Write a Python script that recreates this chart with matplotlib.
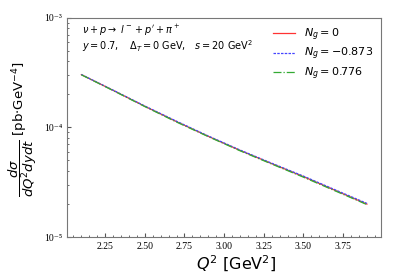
import numpy as np
import matplotlib
matplotlib.use("Agg")
from matplotlib import pyplot as plt
from matplotlib.ticker import AutoMinorLocator, FuncFormatter, LogLocator

# values
Q2 = [2.1, 2.3, 2.5, 2.7, 2.9, 3.1, 3.3, 3.5, 3.7, 3.9]
xs_Ng0 = [3.03e-4, 2.18e-4, 1.56e-4, 1.13e-4, 8.30e-5, 6.18e-5, 4.68e-5, 3.56e-5, 2.67e-5, 2.00e-5]
xs_Ngm = [3.04e-4, 2.19e-4, 1.57e-4, 1.14e-4, 8.36e-5, 6.23e-5, 4.72e-5, 3.60e-5, 2.70e-5, 2.03e-5]
xs_Ngp = [3.02e-4, 2.17e-4, 1.55e-4, 1.12e-4, 8.25e-5, 6.13e-5, 4.64e-5, 3.52e-5, 2.64e-5, 1.98e-5]
labels = [r'$N_g = 0$', r'$N_g = -0.873$', r'$N_g = 0.776$']

sup = str.maketrans("-0123456789", "⁻⁰¹²³⁴⁵⁶⁷⁸⁹")

def logfmt(v, pos):
    e = int(round(np.log10(v)))
    return "10" + str(e).translate(sup)

fig = plt.figure(figsize=(4.09, 2.78), dpi=100)
ax = fig.add_axes([0.164, 0.147, 0.768, 0.789])

ax.plot(Q2, xs_Ng0, color='#ff3333', lw=0.9, ls='-', label=labels[0])
ax.plot(Q2, xs_Ngm, color='#4444ff', lw=0.9, ls='--', dashes=(2, 1), label=labels[1])
ax.plot(Q2, xs_Ngp, color='#33aa33', lw=0.9, ls='-.', label=labels[2])

ax.set_yscale('log')
ax.set_ylim(1e-5, 1e-3)
ax.set_xlim(2.01, 3.99)
ax.set_xticks([2.25, 2.50, 2.75, 3.00, 3.25, 3.50, 3.75])
ax.xaxis.set_minor_locator(AutoMinorLocator(5))
ax.yaxis.set_major_locator(LogLocator(base=10, numticks=5))
ax.yaxis.set_major_formatter(FuncFormatter(logfmt))
ax.tick_params(which='both', direction='in', colors='#555555', labelcolor='black')
ax.tick_params(which='major', length=3, labelsize=7)
ax.tick_params(which='minor', length=1.5)
for lab in ax.get_xticklabels() + ax.get_yticklabels():
    lab.set_family(['Liberation Serif', 'DejaVu Serif'])
for s in ax.spines.values():
    s.set_color('#777777')

ax.set_xlabel(r'$Q^2$ [GeV$^2$]', fontsize=11.5, labelpad=0)
ax.xaxis.set_label_coords(0.538, -0.075)
ax.set_ylabel(r'$\dfrac{d\sigma}{dQ^2dydt}$ [pb$\cdot$GeV$^{-4}$]', fontsize=9.5, labelpad=2)
ax.yaxis.set_label_coords(-0.09, 0.49)

ax.text(0.048, 0.925, r"$\nu + p \rightarrow\ l^- + p' + \pi^+$", transform=ax.transAxes, fontsize=7)
ax.text(0.048, 0.855, r"$y = 0.7,\quad \Delta_T = 0$ GeV,$\quad s = 20$ GeV$^2$", transform=ax.transAxes, fontsize=7)

ax.legend(loc='upper right', frameon=False, fontsize=8, handlelength=2.0, handletextpad=0.8,
          borderaxespad=0.35, labelspacing=0.3)

plt.savefig("out.png", dpi=100)
